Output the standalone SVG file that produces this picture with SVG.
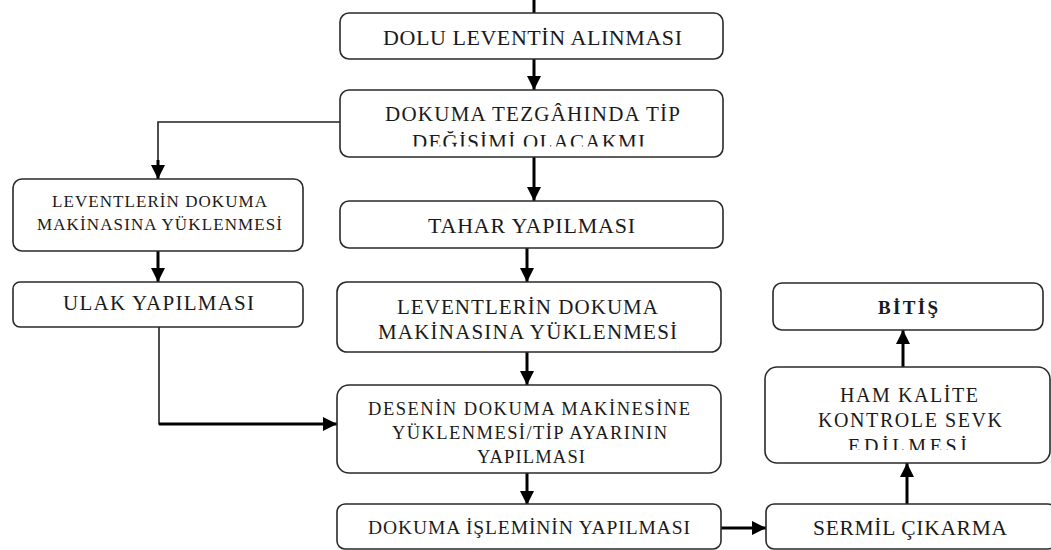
<svg xmlns="http://www.w3.org/2000/svg" width="1051" height="550" viewBox="0 0 1051 550">
  <style>
    .box { fill: #ffffff; stroke: #2a2a2a; stroke-width: 1.6; }
    .t { font-family: "Liberation Serif", "Times New Roman", serif; font-size: 20px; fill: #1a1a1a; text-anchor: middle; }
    .s17 { font-size: 17px; }
    .s185 { font-size: 18.5px; }
    .s195 { font-size: 19.5px; }
    .s21 { font-size: 21px; }
    .s215 { font-size: 21.5px; }
    .s22 { font-size: 22px; }
    .tb { font-weight: bold; font-size: 19px; }
    .thick { fill: none; stroke: #000; stroke-width: 3; }
    .thin { fill: none; stroke: #222; stroke-width: 1.6; }
  </style>
  <defs>
    <marker id="head" markerUnits="userSpaceOnUse" markerWidth="14" markerHeight="14" viewBox="0 0 14 14" refX="14" refY="7" orient="auto">
      <path d="M0,0 L14,7 L0,14 Z" fill="#000"/>
    </marker>
    <clipPath id="clipTip"><rect x="340" y="90" width="383" height="56.5"/></clipPath>
    <clipPath id="clipHam"><rect x="765" y="367" width="285" height="83"/></clipPath>
  </defs>

  <rect width="1051" height="550" fill="#ffffff"/>

  <!-- connectors -->
  <g id="connectors">
    <line class="thick" x1="534" y1="0" x2="534" y2="13"/>
    <line class="thick" x1="534" y1="59" x2="534" y2="90" marker-end="url(#head)"/>
    <line class="thick" x1="534" y1="157" x2="534" y2="201" marker-end="url(#head)"/>
    <polyline class="thin" points="340,122 158,122 158,165"/>
    <line class="thick" x1="158" y1="160" x2="158" y2="179" marker-end="url(#head)"/>
    <line class="thick" x1="158" y1="251" x2="158" y2="282" marker-end="url(#head)"/>
    <polyline class="thin" points="159,327 159,424 170,424"/>
    <line class="thick" x1="159" y1="424" x2="337" y2="424" marker-end="url(#head)"/>
    <line class="thick" x1="527" y1="248" x2="527" y2="282" marker-end="url(#head)"/>
    <line class="thick" x1="527" y1="352" x2="527" y2="385" marker-end="url(#head)"/>
    <line class="thick" x1="527" y1="473" x2="527" y2="505" marker-end="url(#head)"/>
    <line class="thick" x1="721" y1="528" x2="766" y2="528" marker-end="url(#head)"/>
    <line class="thick" x1="907" y1="504" x2="907" y2="463" marker-end="url(#head)"/>
    <line class="thick" x1="903" y1="367" x2="903" y2="330" marker-end="url(#head)"/>
  </g>

  <g id="dolu-levent">
    <rect class="box" x="340" y="13" width="383" height="46" rx="9"/>
    <text class="t s22" x="532.5" y="44.5" textLength="299" lengthAdjust="spacing">DOLU LEVENTİN ALINMASI</text>
  </g>

  <g id="tip-degisimi">
    <rect class="box" x="340" y="90" width="383" height="67" rx="9"/>
    <text class="t s21" x="532.5" y="121" textLength="295" lengthAdjust="spacing">DOKUMA TEZGÂHINDA TİP</text>
    <text class="t s21" x="528.5" y="149" textLength="233" lengthAdjust="spacing" clip-path="url(#clipTip)">DEĞİŞİMİ OLACAKMI</text>
  </g>

  <g id="leventler-sol">
    <rect class="box" x="13" y="179" width="290" height="72" rx="9"/>
    <text class="t s17" x="159.5" y="207" textLength="215" lengthAdjust="spacing">LEVENTLERİN DOKUMA</text>
    <text class="t s17" x="159.5" y="230" textLength="245" lengthAdjust="spacing">MAKİNASINA YÜKLENMESİ</text>
  </g>

  <g id="ulak">
    <rect class="box" x="13" y="282" width="290" height="45" rx="7"/>
    <text class="t s21" x="158.5" y="310" textLength="191" lengthAdjust="spacing">ULAK YAPILMASI</text>
  </g>

  <g id="tahar">
    <rect class="box" x="340" y="201" width="383" height="47" rx="9"/>
    <text class="t s22" x="531.5" y="232.5" textLength="207" lengthAdjust="spacing">TAHAR YAPILMASI</text>
  </g>

  <g id="leventler-orta">
    <rect class="box" x="337" y="282" width="384" height="70" rx="10"/>
    <text class="t s21" x="527.5" y="314" textLength="261" lengthAdjust="spacing">LEVENTLERİN DOKUMA</text>
    <text class="t s21" x="527.5" y="339" textLength="299" lengthAdjust="spacing">MAKİNASINA YÜKLENMESİ</text>
  </g>

  <g id="desen">
    <rect class="box" x="337" y="385" width="384" height="88" rx="12"/>
    <text class="t s185" x="529" y="414.5" textLength="322" lengthAdjust="spacing">DESENİN DOKUMA MAKİNESİNE</text>
    <text class="t s185" x="529.5" y="438.5" textLength="275" lengthAdjust="spacing">YÜKLENMESİ/TİP AYARININ</text>
    <text class="t s185" x="531" y="462.5" textLength="108" lengthAdjust="spacing">YAPILMASI</text>
  </g>

  <g id="dokuma-islemi">
    <rect class="box" x="337" y="504" width="384" height="45" rx="8"/>
    <text class="t s195" x="529" y="533.5" textLength="322" lengthAdjust="spacing">DOKUMA İŞLEMİNİN YAPILMASI</text>
  </g>

  <g id="sermil">
    <rect class="box" x="766" y="504" width="290" height="45" rx="8"/>
    <text class="t s215" x="910" y="535" textLength="194" lengthAdjust="spacing">SERMİL ÇIKARMA</text>
  </g>

  <g id="ham-kalite">
    <rect class="box" x="765" y="367" width="285" height="96" rx="12"/>
    <text class="t" x="909" y="402" textLength="138" lengthAdjust="spacing">HAM KALİTE</text>
    <text class="t" x="910" y="427" textLength="184" lengthAdjust="spacing">KONTROLE SEVK</text>
    <text class="t" x="907.5" y="453" textLength="119" lengthAdjust="spacing" clip-path="url(#clipHam)">EDİLMESİ</text>
  </g>

  <g id="bitis">
    <rect class="box" x="773" y="283" width="270" height="47" rx="9"/>
    <text class="t tb" x="908" y="314" textLength="60" lengthAdjust="spacing">BİTİŞ</text>
  </g>
</svg>
